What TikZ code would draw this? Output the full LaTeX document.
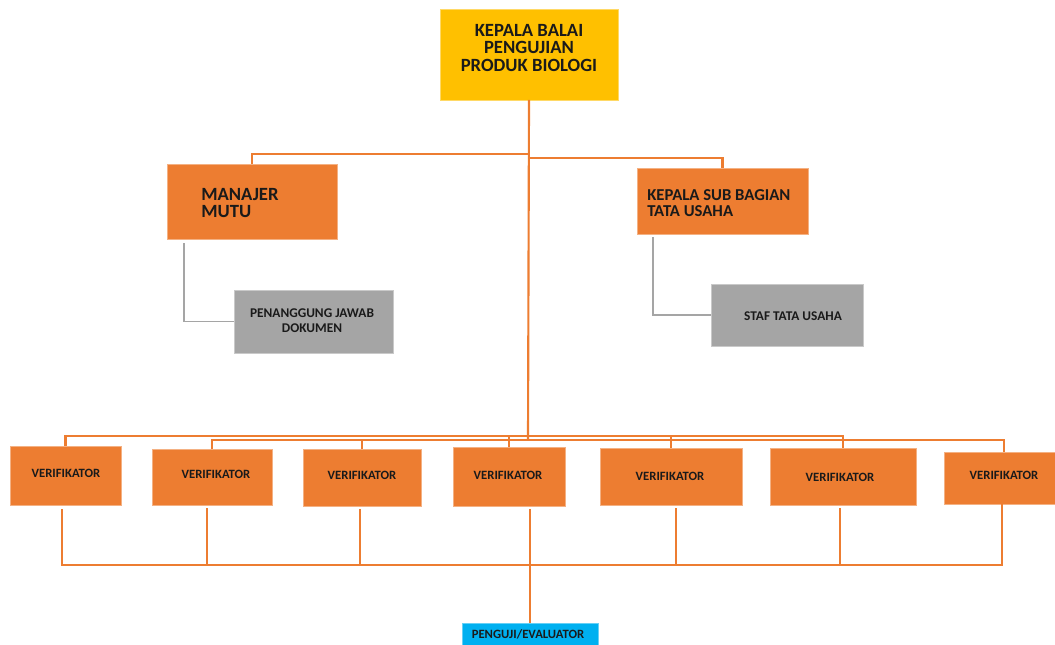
\documentclass[tikz,border=0pt]{standalone}
\usepackage{fontspec}
\setmainfont{Carlito}
\definecolor{corange}{HTML}{ED7D31}
\definecolor{cgold}{HTML}{FFC000}
\definecolor{cgray}{HTML}{A5A5A5}
\definecolor{cblue}{HTML}{00B0F0}
\definecolor{ctext}{HTML}{1A1A1A}
\newcommand\orgbox[6]{\node[#6, minimum width={(#4-#2)*0.75pt}, minimum height={(#5-#3)*0.75pt}] (#1) at ({(#2+#4)/2},{(#3+#5)/2}) {};}
\tikzset{
  boxbase/.style={rectangle, inner sep=0pt, outer sep=0pt, line width=0.6pt},
  obox/.style={boxbase, fill=corange, draw=corange!60!white},
  gbox/.style={boxbase, fill=cgold, draw=cgold!60!white},
  ybox/.style={boxbase, fill=cgray, draw=cgray!60!white},
  bbox/.style={boxbase, fill=cblue, draw=cblue!60!white},
  oline/.style={draw=corange, line width=1.6pt},
  gline/.style={draw=cgray, line width=1.4pt},
  bigtxt/.style={inner sep=0pt, text=ctext, font=\fontsize{14}{13.4}\selectfont\bfseries},
  midtxt/.style={inner sep=0pt, text=ctext, font=\fontsize{12.5}{12.6}\selectfont\bfseries},
  smalltxt/.style={inner sep=0pt, text=ctext, font=\fontsize{10}{11}\selectfont\bfseries},
  vtxt/.style={inner sep=0pt, text=ctext, font=\fontsize{9.5}{10.5}\selectfont\bfseries},
}
\begin{document}
\begin{tikzpicture}[x=0.75pt,y=-0.75pt]
\useasboundingbox (0,0) rectangle (1055,645);
% boxes
\orgbox{top}{440}{9}{618}{100}{gbox}
\orgbox{mm}{167}{164}{337}{239}{obox}
\orgbox{pj}{234}{290}{393}{353}{ybox}
\orgbox{ks}{637}{168}{808}{234}{obox}
\orgbox{st}{711}{284}{863}{346}{ybox}
\orgbox{v1}{10}{446}{121}{505}{obox}
\orgbox{v2}{152}{449}{272}{505}{obox}
\orgbox{v3}{303}{449}{421}{506}{obox}
\orgbox{v4}{453}{447}{565}{506}{obox}
\orgbox{v5}{600}{448}{742}{505}{obox}
\orgbox{v6}{770}{448}{916}{505}{obox}
\orgbox{v7}{944}{452}{1064}{504}{obox}
\orgbox{pg}{462}{623}{598}{648}{bbox}
% texts
\node[bigtxt, align=center] (ttop) at (529,48) {KEPALA BALAI\\PENGUJIAN\\PRODUK BIOLOGI};
\node[bigtxt, align=left, anchor=west] (tmm) at (201,203) {MANAJER\\MUTU};
\node[midtxt, align=left, anchor=west] (tks) at (647,203) {KEPALA SUB BAGIAN\\TATA USAHA};
\node[smalltxt, align=center] (tpj) at (312,321) {PENANGGUNG JAWAB\\DOKUMEN};
\node[smalltxt] (tst) at (793,316) {STAF TATA USAHA};
\node[vtxt] (tv1) at (66,473) {VERIFIKATOR};
\node[vtxt] (tv2) at (216,474) {VERIFIKATOR};
\node[vtxt] (tv3) at (362,475) {VERIFIKATOR};
\node[vtxt] (tv4) at (508,475) {VERIFIKATOR};
\node[vtxt] (tv5) at (670,476) {VERIFIKATOR};
\node[vtxt] (tv6) at (840,477) {VERIFIKATOR};
\node[vtxt] (tv7) at (1004,475) {VERIFIKATOR};
\node[vtxt] (tpg) at (528,634) {PENGUJI/EVALUATOR};
% connectors
\coordinate (busL) at (528,154);
\coordinate (busR) at (528,158);
\coordinate (hA) at (528,436);
\coordinate (hB) at (528,440);
\coordinate (hC) at (528,565);
\coordinate (b1) at (62,509);
\coordinate (b2) at (207,508);
\coordinate (b3) at (360,509);
\coordinate (b5) at (676,508);
\coordinate (b6) at (840,508);
\coordinate (b7) at (1002,504);
\draw[oline] (top.south) -- (hB);
\draw[oline] (busL) -| (mm.north);
\draw[oline] (busR) -| (ks.north);
\draw[gline] ([shift={(17,4)}]mm.south west) |- (pj.west);
\draw[gline] ([shift={(16,3)}]ks.south west) |- (st.west);
\draw[oline] (v1.north) |- (hA) -| (v6.north);
\draw[oline] (v4.north) -- (v4.north |- hA);
\draw[oline] (v5.north) -- (v5.north |- hA);
\draw[oline] (v2.north) |- (hB) -| (v7.north);
\draw[oline] (v3.north) -- (v3.north |- hB);
\draw[oline] (b1) |- (hC) -| (b7);
\draw[oline] (b2) -- (b2 |- hC);
\draw[oline] (b3) -- (b3 |- hC);
\draw[oline] (b5) -- (b5 |- hC);
\draw[oline] (b6) -- (b6 |- hC);
\draw[oline] (pg.north |- v4.south) ++(0,3) -- (pg.north);
\end{tikzpicture}
\end{document}
